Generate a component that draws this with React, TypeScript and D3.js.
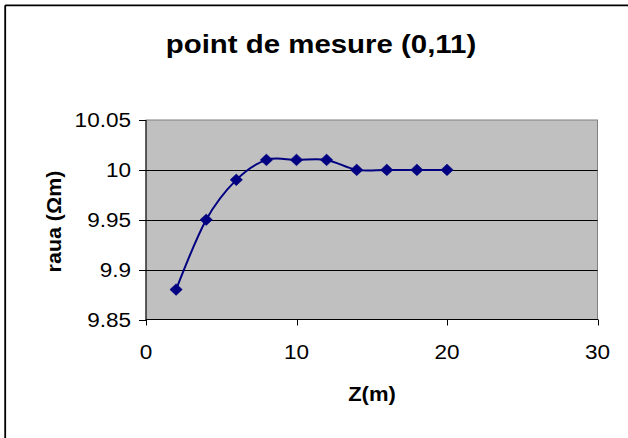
import React from "react";
import * as d3 from "d3";

const zValues = [2, 4, 6, 8, 10, 12, 14, 16, 18, 20];
const rauaValues = [9.88, 9.95, 9.99, 10.01, 10.01, 10.01, 10.0, 10.0, 10.0, 10.0];
const xTicks = [0, 10, 20, 30];
const yTicks = [9.85, 9.9, 9.95, 10, 10.05];
const yTickLabels = ["9.85", "9.9", "9.95", "10", "10.05"];
const titleText = "point de mesure (0,11)";
const xTitle = "Z(m)";
const yTitle = "raua (Ωm)";

const W = 628;
const H = 438;
const left = 146;
const right = 597.5;
const top = 120;
const bottom = 319.5;
const font = "'Liberation Sans', Arial, sans-serif";
const SX = 1.1;

export default function App() {
  const x = d3.scaleLinear().domain([0, 30]).range([left, right]);
  const y = d3.scaleLinear().domain([9.85, 10.05]).range([bottom, top]);
  const pts: [number, number][] = zValues.map((z, i) => [x(z), y(rauaValues[i])]);
  const line = d3.line().curve(d3.curveCardinal.tension(0))(pts) || "";
  const diamond = (cx: number, cy: number) => {
    const rx = 6.2;
    const ry = 5.8;
    return `M${cx},${cy - ry}L${cx + rx},${cy}L${cx},${cy + ry}L${cx - rx},${cy}Z`;
  };
  return (
    <svg
      width={W}
      height={H}
      style={{ position: "absolute", left: 0, top: 0, background: "#fff" }}
      fontFamily={font}
    >
      <rect x={0} y={0} width={W} height={H} fill="#fff" />
      {/* outer frame (top & left visible) */}
      <line x1={5.2} y1={5.3} x2={W} y2={5.3} stroke="#000" strokeWidth={1.8} />
      <line x1={5.2} y1={5.3} x2={5.2} y2={H} stroke="#000" strokeWidth={1.8} />

      <text
        transform={`translate(321,52.7) scale(1.11,1)`}
        textAnchor="middle"
        fontSize={26.5}
        fontWeight="bold"
        fill="#000"
      >
        {titleText}
      </text>

      {/* plot area */}
      <rect x={left} y={top} width={right - left} height={bottom - top} fill="#C0C0C0" stroke="#808080" strokeWidth={1} />

      {/* gridlines */}
      {yTicks.slice(1, -1).map((t) => (
        <line key={"g" + t} x1={left} x2={right} y1={Math.round(y(t)) + 0.5} y2={Math.round(y(t)) + 0.5} stroke="#000" strokeWidth={1} />
      ))}

      {/* axes */}
      <line x1={left} x2={left} y1={top} y2={bottom} stroke="#000" strokeWidth={1} />
      <line x1={left - 0.5} x2={right + 0.5} y1={bottom} y2={bottom} stroke="#000" strokeWidth={1} />

      {yTicks.map((t, i) => (
        <g key={"y" + t}>
          <line x1={left - 7} x2={left} y1={Math.round(y(t)) + 0.5} y2={Math.round(y(t)) + 0.5} stroke="#000" />
          <text
            transform={`translate(131,${y(t)}) scale(${SX},1)`}
            dy="0.36em"
            textAnchor="end"
            fontSize={20.5}
            fill="#000"
          >
            {yTickLabels[i]}
          </text>
        </g>
      ))}
      {xTicks.map((t) => (
        <g key={"x" + t}>
          <line x1={Math.round(x(t)) + 0.5} x2={Math.round(x(t)) + 0.5} y1={bottom} y2={bottom + 6} stroke="#000" />
          <text
            transform={`translate(${x(t)},352) scale(${SX},1)`}
            dy="0.36em"
            textAnchor="middle"
            fontSize={20.5}
            fill="#000"
          >
            {t}
          </text>
        </g>
      ))}

      <text
        transform={`translate(372,394) scale(${SX},1)`}
        dy="0.35em"
        textAnchor="middle"
        fontSize={20}
        fontWeight="bold"
        fill="#000"
      >
        {xTitle}
      </text>
      <text
        transform={`translate(54,221.5) rotate(-90) scale(${SX},1)`}
        dy="0.35em"
        textAnchor="middle"
        fontSize={19.5}
        fontWeight="bold"
        fill="#000"
      >
        {yTitle}
      </text>

      <path d={line} fill="none" stroke="#000080" strokeWidth={2} />
      {pts.map(([cx, cy], i) => (
        <path key={"m" + i} d={diamond(cx, cy)} fill="#000080" stroke="#000080" strokeWidth={0.5} />
      ))}
    </svg>
  );
}
